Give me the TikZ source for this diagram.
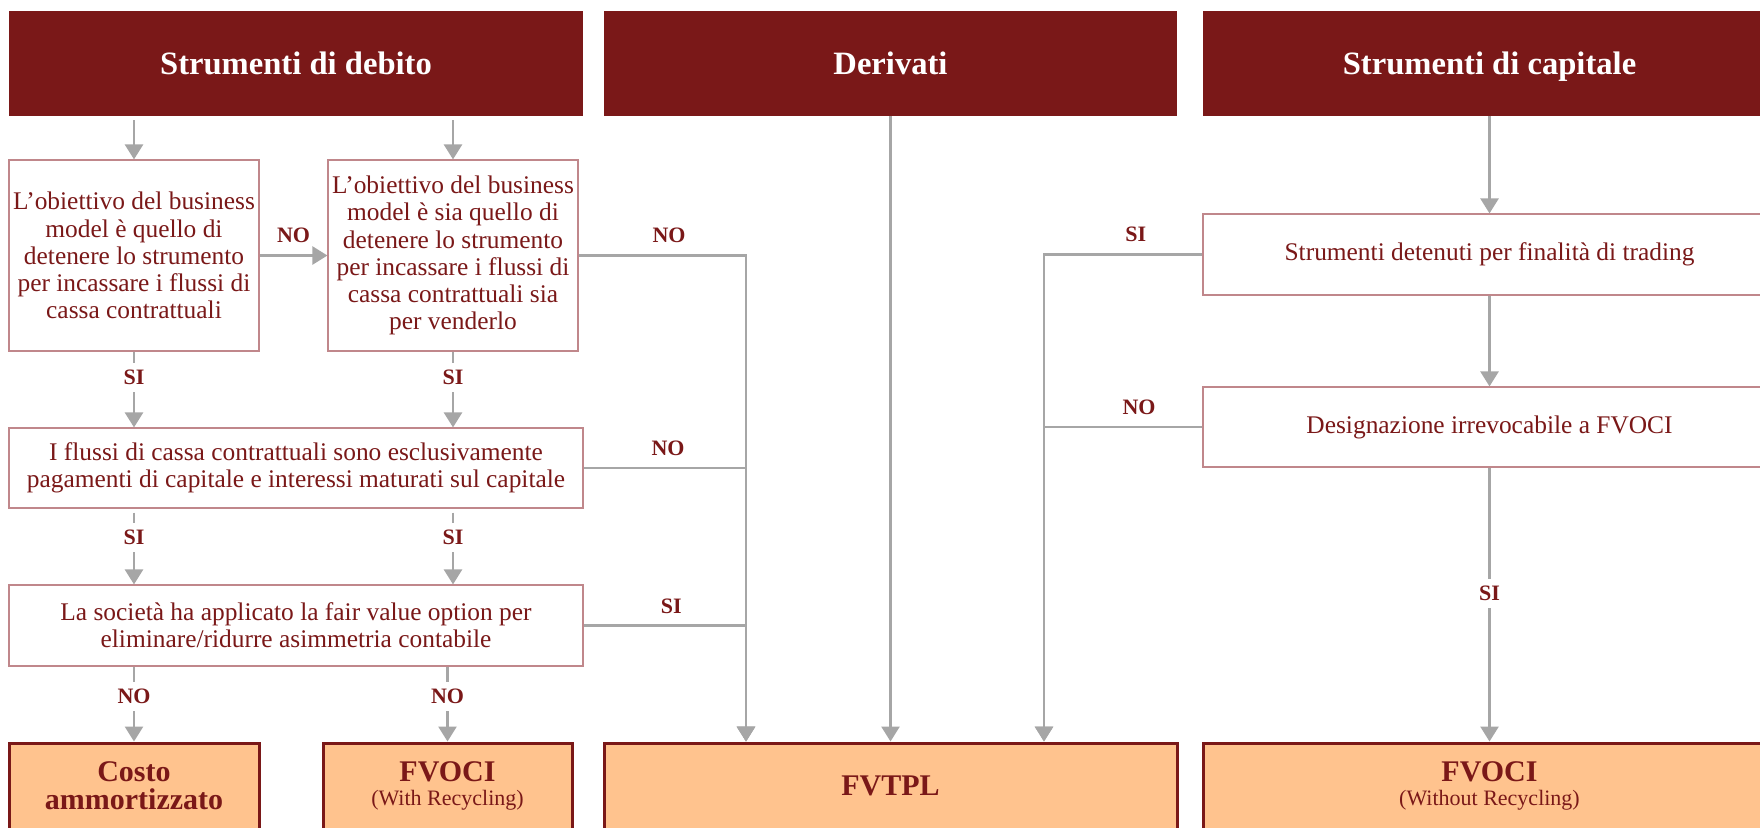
\documentclass[tikz,border=0pt]{standalone}
\usepackage{fontspec}
\setmainfont{Liberation Serif}
\usepackage{tikz}
\usetikzlibrary{positioning, arrows.meta}
\definecolor{headred}{HTML}{7A1818}
\definecolor{boxline}{HTML}{C0878B}
\definecolor{outfill}{HTML}{FFC38E}
\definecolor{arrgray}{HTML}{A6A6A6}

\begin{document}
\begin{tikzpicture}[x=0.5pt, y=-0.5pt,
  head/.style={rectangle, fill=headred, text=white, minimum height=52.5pt, inner sep=0pt, text height=12pt, text depth=1.2pt, font=\fontsize{16.3}{18}\selectfont\bfseries},
  qbox/.style={rectangle, draw=boxline, line width=0.6pt, fill=white, text=headred, align=center, inner sep=0.5pt, font=\fontsize{12.7}{13.6}\selectfont},
  outbox/.style={rectangle, draw=headred, line width=1.5pt, fill=outfill, text=headred, align=center, minimum height=43pt, inner sep=0pt},
  arr/.style={draw=arrgray, line width=1.3pt, -{Triangle[width=9pt,length=7.5pt]}},
  lbl/.style={text=headred, inner sep=1pt, font=\fontsize{11}{12}\selectfont\bfseries},
  gap/.style={lbl, fill=white, inner xsep=2pt, inner ysep=3.5pt}]

\fill[white, use as bounding box] (0,0) rectangle (1760,827);
\clip (0,0) rectangle (1760,827);

\node (debito) [head, minimum width=287pt] at (296,63.5) {Strumenti di debito};
\node (derivati) [head, minimum width=286.5pt] at (890.5,63.5) {Derivati};
\node (capitale) [head, minimum width=286.5pt] at (1489.5,63.5) {Strumenti di capitale};

\node (bm1) [qbox, minimum width=125pt, minimum height=95.5pt] at (134,255.5)
    {L’obiettivo del business\\model è quello di\\detenere lo strumento\\per incassare i flussi di\\cassa contrattuali};
\node (bm2) [qbox, minimum width=125pt, minimum height=95.5pt] at (453,255.5)
    {L’obiettivo del business\\model è sia quello di\\detenere lo strumento\\per incassare i flussi di\\cassa contrattuali sia\\per venderlo};
\node (sppi) [qbox, minimum width=287pt, minimum height=40pt] at (296,468)
    {I flussi di cassa contrattuali sono esclusivamente\\pagamenti di capitale e interessi maturati sul capitale};
\node (fvo) [qbox, minimum width=287pt, minimum height=40.5pt] at (296,625.5)
    {La società ha applicato la fair value option per\\eliminare/ridurre asimmetria contabile};
\node (trading) [qbox, minimum width=286.5pt, minimum height=40.5pt] at (1489.5,254.5)
    {Strumenti detenuti per finalità di trading};
\node (irrev) [qbox, minimum width=286.5pt, minimum height=40pt] at (1489.5,427)
    {Designazione irrevocabile a FVOCI};

\node (costo) [outbox, minimum width=125pt, font=\fontsize{15}{14}\selectfont\bfseries] at (134,786)
    {Costo\\ammortizzato};
\node (fvoci1) [outbox, minimum width=124.5pt] at (447.5,786)
    {{\fontsize{15}{11.5}\selectfont\bfseries FVOCI}\\{\fontsize{11}{11}\selectfont (With Recycling)}};
\node (fvtpl) [outbox, minimum width=286.5pt, font=\fontsize{15}{12}\selectfont\bfseries] at (890.5,786)
    {FVTPL};
\node (fvoci2) [outbox, minimum width=286.5pt] at (1489.5,786)
    {{\fontsize{15}{11.5}\selectfont\bfseries FVOCI}\\{\fontsize{11}{11}\selectfont (Without Recycling)}};

\coordinate (fvtplin) at (746,0);
\coordinate (tradin) at (1044,0);

\draw[arr, shorten <=2pt] (debito.south -| bm1) -- (bm1);
\draw[arr, shorten <=2pt] (debito.south -| bm2) -- (bm2);
\draw[arr] (bm1) -- (bm2) node[lbl, midway, above=4.5pt] {NO};
\draw[arr] (bm1) -- (bm1 |- sppi.north) node[gap, pos=0.34] {SI};
\draw[arr] (bm2) -- (bm2 |- sppi.north) node[gap, pos=0.34] {SI};
\draw[arr, shorten <=2pt] (sppi.south -| bm1) -- (fvo.north -| bm1) node[gap, pos=0.38] {SI};
\draw[arr, shorten <=2pt] (sppi.south -| bm2) -- (fvo.north -| bm2) node[gap, pos=0.38] {SI};
\draw[arr] (fvo.south -| costo) -- (costo) node[gap, pos=0.4] {NO};
\draw[arr] (fvo.south -| fvoci1) -- (fvoci1) node[gap, pos=0.4] {NO};

\draw[arr] (bm2) -| (fvtplin |- fvtpl.north) node[lbl, pos=0.27, above=4.5pt] {NO};
\draw[arr] (sppi) -| (fvtplin |- fvtpl.north) node[lbl, pos=0.26, above=4.5pt] {NO};
\draw[arr] (fvo) -| (fvtplin |- fvtpl.north) node[lbl, pos=0.27, above=4.5pt] {SI};
\draw[arr] (derivati) -- (derivati |- fvtpl.north);

\draw[arr] (capitale.south -| trading) -- (trading);
\draw[arr] (trading) -- (irrev);
\draw[arr] (irrev) -- (fvoci2) node[gap, pos=0.46] {SI};
\draw[arr] (trading) -| (tradin |- fvtpl.north) node[lbl, pos=0.21, above=4.5pt] {SI};
\draw[arr] (irrev) -| (tradin |- fvtpl.north) node[lbl, pos=0.2, above=4.5pt] {NO};
\end{tikzpicture}
\end{document}
